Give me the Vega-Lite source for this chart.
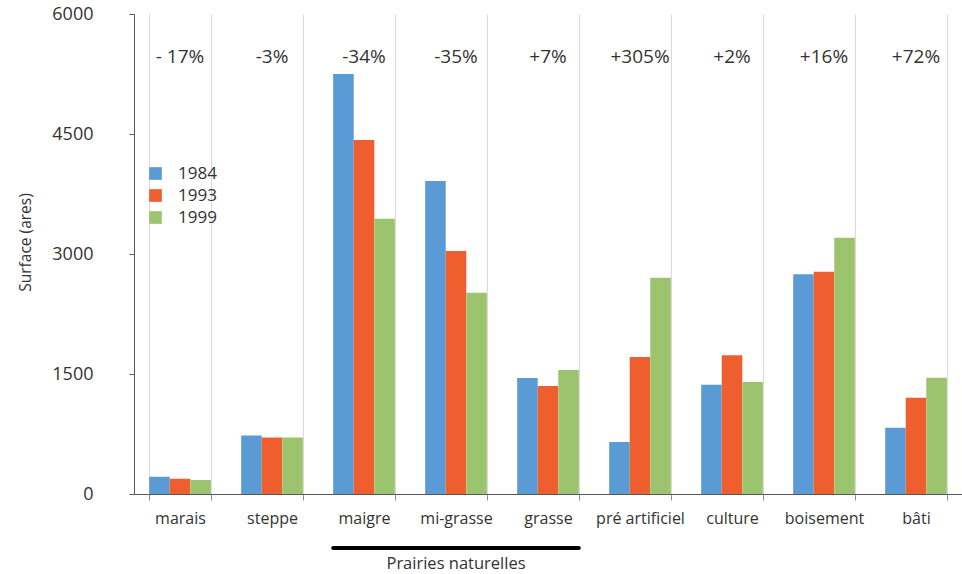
{
  "$schema": "https://vega.github.io/schema/vega-lite/v6.json",
  "width": 828,
  "height": 480,
  "autosize": {"type": "none"},
  "padding": {"left": 134, "top": 14, "right": 0, "bottom": 80},
  "background": "white",
  "config": {"view": {"stroke": null}, "font": "Open Sans"},
  "datasets": {
    "surfaces": [
      {"cat": "marais", "year": "1984", "value": 215},
      {"cat": "marais", "year": "1993", "value": 190},
      {"cat": "marais", "year": "1999", "value": 175},
      {"cat": "steppe", "year": "1984", "value": 730},
      {"cat": "steppe", "year": "1993", "value": 705},
      {"cat": "steppe", "year": "1999", "value": 705},
      {"cat": "maigre", "year": "1984", "value": 5250},
      {"cat": "maigre", "year": "1993", "value": 4425},
      {"cat": "maigre", "year": "1999", "value": 3442},
      {"cat": "mi-grasse", "year": "1984", "value": 3912},
      {"cat": "mi-grasse", "year": "1993", "value": 3037},
      {"cat": "mi-grasse", "year": "1999", "value": 2517},
      {"cat": "grasse", "year": "1984", "value": 1450},
      {"cat": "grasse", "year": "1993", "value": 1350},
      {"cat": "grasse", "year": "1999", "value": 1550},
      {"cat": "pré artificiel", "year": "1984", "value": 650},
      {"cat": "pré artificiel", "year": "1993", "value": 1712},
      {"cat": "pré artificiel", "year": "1999", "value": 2704},
      {"cat": "culture", "year": "1984", "value": 1367},
      {"cat": "culture", "year": "1993", "value": 1733},
      {"cat": "culture", "year": "1999", "value": 1400},
      {"cat": "boisement", "year": "1984", "value": 2746},
      {"cat": "boisement", "year": "1993", "value": 2779},
      {"cat": "boisement", "year": "1999", "value": 3204},
      {"cat": "bâti", "year": "1984", "value": 829},
      {"cat": "bâti", "year": "1993", "value": 1204},
      {"cat": "bâti", "year": "1999", "value": 1454}
    ],
    "changes": [
      {"cat": "marais", "label": "- 17%"},
      {"cat": "steppe", "label": "-3%"},
      {"cat": "maigre", "label": "-34%"},
      {"cat": "mi-grasse", "label": "-35%"},
      {"cat": "grasse", "label": "+7%"},
      {"cat": "pré artificiel", "label": "+305%"},
      {"cat": "culture", "label": "+2%"},
      {"cat": "boisement", "label": "+16%"},
      {"cat": "bâti", "label": "+72%"}
    ],
    "groups": [
      {"group": "Prairies naturelles"}
    ]
  },
  "layer": [
    {
      "data": {"name": "surfaces"},
      "mark": {"type": "bar"},
      "encoding": {
        "x": {
          "field": "cat",
          "type": "nominal",
          "scale": {
            "domain": ["marais", "steppe", "maigre", "mi-grasse", "grasse", "pré artificiel", "culture", "boisement", "bâti"],
            "paddingInner": 0.33,
            "paddingOuter": 0.165
          },
          "axis": {
            "title": null,
            "labelAngle": 0,
            "tickBand": "extent",
            "grid": true,
            "gridColor": "#d9d9d9",
            "gridWidth": 1,
            "domainColor": "#595959",
            "tickColor": "#8c8c8c",
            "tickSize": 6,
            "labelFontSize": 16,
            "labelColor": "#333333",
            "labelPadding": 10
          }
        },
        "xOffset": {"field": "year", "type": "nominal"},
        "y": {
          "field": "value",
          "type": "quantitative",
          "scale": {"domain": [0, 6000], "nice": false},
          "axis": {
            "values": [0, 1500, 3000, 4500, 6000],
            "format": "d",
            "grid": false,
            "domainColor": "#595959",
            "tickColor": "#595959",
            "tickSize": 5,
            "labelPadding": 36,
            "labelFontSize": 18,
            "labelColor": "#333333",
            "title": "Surface (ares)",
            "titleFontSize": 15.5,
            "titleFontWeight": "normal",
            "titleColor": "#333333",
            "titlePadding": 18,
            "titleY": 228
          }
        },
        "color": {
          "field": "year",
          "type": "nominal",
          "scale": {"domain": ["1984", "1993", "1999"], "range": ["#5B9BD5", "#EE5E2F", "#9CC46E"]},
          "legend": {
            "title": null,
            "orient": "none",
            "legendX": 13,
            "legendY": 151,
            "symbolType": "square",
            "symbolSize": 160,
            "symbolStrokeWidth": 0,
            "labelFontSize": 17,
            "labelColor": "#333333",
            "labelOffset": 14,
            "rowPadding": 4
          }
        }
      }
    },
    {
      "data": {"name": "changes"},
      "mark": {"type": "text", "fontSize": 19, "color": "#333333", "baseline": "middle"},
      "encoding": {
        "x": {"field": "cat", "type": "nominal"},
        "y": {"datum": 5460, "type": "quantitative"},
        "text": {"field": "label"}
      }
    },
    {
      "data": {"name": "groups"},
      "mark": {"type": "rule", "strokeWidth": 4, "color": "black", "strokeCap": "round", "clip": false},
      "encoding": {
        "x": {"datum": "maigre", "type": "nominal", "bandPosition": 0},
        "x2": {"datum": "grasse", "bandPosition": 1},
        "y": {"datum": -675, "type": "quantitative"}
      }
    },
    {
      "data": {"name": "groups"},
      "mark": {"type": "text", "fontSize": 16.5, "color": "#333333", "baseline": "middle", "clip": false},
      "encoding": {
        "x": {"datum": "mi-grasse", "type": "nominal"},
        "y": {"datum": -870, "type": "quantitative"},
        "text": {"field": "group"}
      }
    }
  ]
}
